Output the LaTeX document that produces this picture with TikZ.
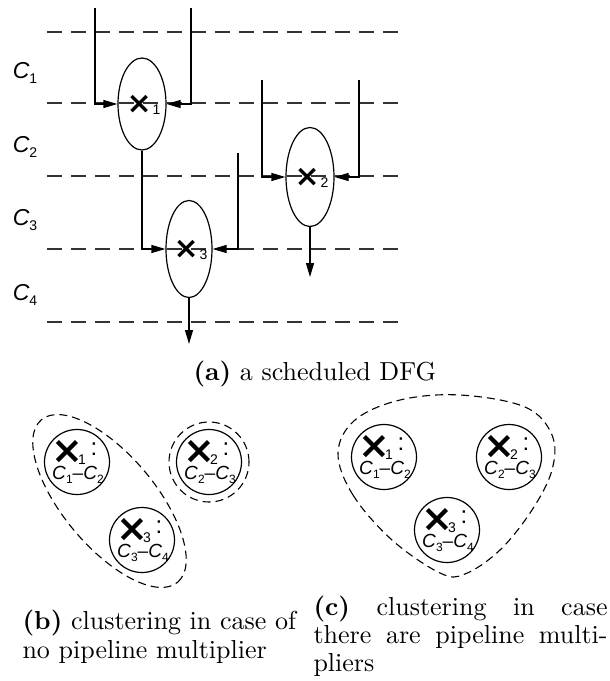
\documentclass[tikz,border=0pt]{standalone}
\usepackage{fontspec}
\newfontfamily\hv{Liberation Sans}
\newfontfamily\dv{DejaVu Sans}
\usetikzlibrary{arrows.meta,shapes.geometric}
\tikzset{
 ln/.style={line width=1.2pt},
 gridline/.style={line width=1.1pt, dash pattern=on 15pt off 9pt, black!80},
 arr/.style={ln,-{Triangle[length=14pt,width=8pt]}},
 op/.style={draw,ln,ellipse,minimum width=48pt,inner sep=0},
 xa/.style={inner sep=0,font=\fontsize{30}{30}\selectfont\dv\bfseries},
 clab/.style={inner sep=0,font=\fontsize{23}{23}\selectfont\hv\itshape},
 circ/.style={draw,ln,circle,minimum size=65pt,inner sep=0},
 xb/.style={inner sep=0,font=\fontsize{38}{38}\selectfont\dv\bfseries},
 cb/.style={inner sep=0,font=\fontsize{19}{19}\selectfont\hv},
 clu/.style={draw,line width=1.1pt,dash pattern=on 8pt off 5pt},
 capt/.style={inner sep=0,scale=2.6,font=\normalsize},
}
\newcommand\csb[1]{\raisebox{-4pt}{\upshape\fontsize{12}{12}\selectfont #1}}
\newcommand\clsb[1]{\raisebox{-5pt}{\upshape\fontsize{14}{14}\selectfont #1}}
\newcommand\xsub[1]{\raisebox{-1pt}[0pt][0pt]{\hv\mdseries\fontsize{14}{14}\selectfont #1}}
\newcommand\opA[2]{%
 \node[xa] (#1x) at ([xshift=1.5pt]#1.center) {×\kern1pt\xsub{#2}};}
\newcommand\opB[5]{%
 \node[circ] (#1) at (#2) {};
 \node[xb] (#1x) at ([xshift=-2.8pt,yshift=10pt]#1.center)
   {×\kern-5pt\xsub{#3}\hspace{4.7pt}\raisebox{8pt}[0pt][0pt]{\hv\mdseries\fontsize{24}{24}\selectfont :}};
 \node[cb] (#1t) at ([xshift=1pt,yshift=-13pt]#1.center) {\textit{C}\csb{#4}–\textit{C}\csb{#5}};}
\begin{document}
\begin{tikzpicture}[x=1pt,y=-1pt]
\useasboundingbox (0,0) rectangle (610,681);
% (a) time steps
\foreach \yy in {32,103,176,249,322} \draw[gridline] (47,\yy) -- (400,\yy);
\node[clab] (C1) at (25,73) {C\clsb{1}};
\node[clab] (C2) at (25,147) {C\clsb{2}};
\node[clab] (C3) at (25,220) {C\clsb{3}};
\node[clab] (C4) at (25,295) {C\clsb{4}};
% operations
\node[op,minimum height=92pt] (e1) at (142,104) {};
\node[op,minimum height=99pt] (e2) at (310,177) {};
\node[op,minimum height=97pt,minimum width=46pt] (e3) at (189,249) {};
\opA{e1}{1}
\opA{e2}{2}
\opA{e3}{3}
\coordinate (i1a) at (95,8);
\coordinate (i1b) at (191,8);
\coordinate (i2a) at (262,80);
\coordinate (i2b) at (359,80);
\coordinate (i3b) at (238,153);
\coordinate (o2) at (310,277);
\coordinate (o3) at (189,344);
\draw[arr] (i1a) |- (e1.west);
\draw[arr] (i1b) |- (e1.east);
\draw[arr] (i2a) |- (e2.west);
\draw[arr] (i2b) |- (e2.east);
\draw[arr] (e1.south) |- (e3.west);
\draw[arr] (i3b) |- (e3.east);
\draw[arr] (e2.south) -- (o2);
\draw[arr] (e3.south) -- (o3);
\node[capt,anchor=base west] (capa) at (193,380) {\textbf{(a)} a scheduled DFG};
% (b)
\opB{b1}{77,462}{1}{1}{2}
\opB{b2}{209,462}{2}{2}{3}
\opB{b3}{142,540}{3}{3}{4}
\node[clu,ellipse,minimum width=212pt,minimum height=92pt,rotate=-50] (bc13) at (109.5,501) {};
\node[clu,circle,minimum size=80pt] (bc2) at (b2) {};
\node[capt,anchor=base west] (capb1) at (22,629) {\textbf{(b)} clustering in case of};
\node[capt,anchor=base west] (capb2) at (22,658) {no pipeline multiplier};
% (c)
\opB{c1}{384,457}{1}{1}{2}
\opB{c2}{509,457}{2}{2}{3}
\opB{c3}{447,530}{3}{3}{4}
\draw[clu] plot[smooth cycle, tension=0.6] coordinates {(338,453) (353,495) (392,540) (440,573) (465,574) (500,550) (532,510) (552,470) (552,435) (525,407) (460,395) (400,400) (355,420)};
\node[capt,anchor=base west] (capc1) at (313,615) {\makebox[113.1pt][s]{\textbf{(c)} clustering in case}};
\node[capt,anchor=base west] (capc2) at (313,643) {\makebox[113.1pt][s]{there are pipeline multi-}};
\node[capt,anchor=base west] (capc3) at (313,671) {pliers};
\end{tikzpicture}
\end{document}
